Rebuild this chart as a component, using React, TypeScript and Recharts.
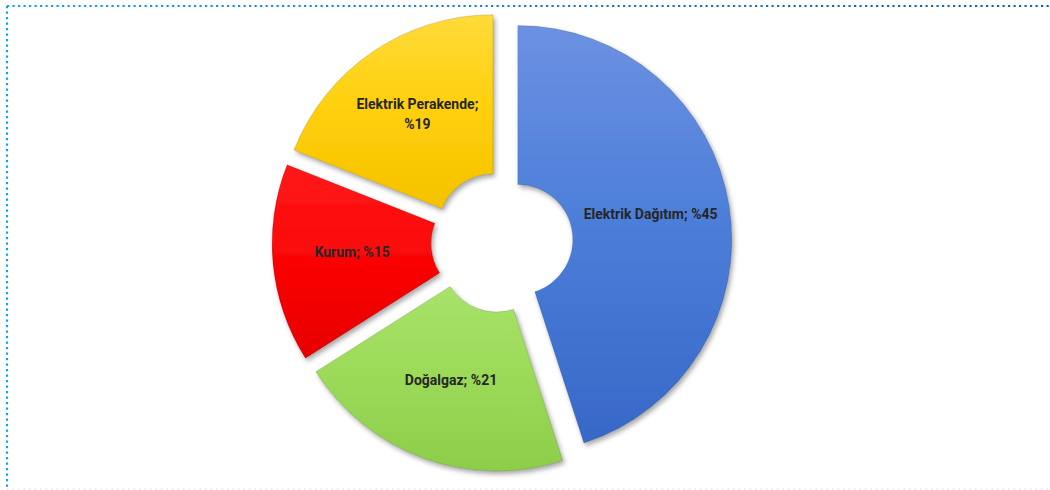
import { PieChart, Pie, Cell, Sector } from 'recharts';

const segmentNames = ['Elektrik Dağıtım', 'Doğalgaz', 'Kurum', 'Elektrik Perakende'];
const segmentShares = [45, 21, 15, 19];
const segmentColors = [
  ['#6c91e2', '#4a7dd8', '#3768c8'],
  ['#a8e26a', '#9bda58', '#8ccd4a'],
  ['#ff1a1a', '#fb0505', '#e60000'],
  ['#ffdb3a', '#ffcf0a', '#f5c200'],
];

const RAD = Math.PI / 180;
const EXPLODE = 16;
const INNER = 55;
const OUTER = 214;

const data = segmentNames.map((name, i) => ({ name, value: segmentShares[i] }));

// every slice is pulled out along its own mid angle
const offset = (midAngle: number) => ({
  dx: Math.cos(-midAngle * RAD) * EXPLODE,
  dy: Math.sin(-midAngle * RAD) * EXPLODE,
});

function ExplodedSlice(props: any) {
  const { cx, cy, midAngle } = props;
  const { dx, dy } = offset(midAngle);
  return <Sector {...props} cx={cx + dx} cy={cy + dy} filter="url(#sliceShadow)" stroke="rgba(0,0,0,0.12)" strokeWidth={1} />;
}

function SliceLabel(props: any) {
  const { cx, cy, midAngle, innerRadius, outerRadius, index } = props;
  const { dx, dy } = offset(midAngle);
  const r = (innerRadius + outerRadius) / 2;
  const x = cx + dx + Math.cos(-midAngle * RAD) * r;
  const y = cy + dy + Math.sin(-midAngle * RAD) * r - 4;
  const name = segmentNames[index];
  const lines = name.length > 17 ? [`${name};`, `%${segmentShares[index]}`] : [`${name}; %${segmentShares[index]}`];
  const top = y - ((lines.length - 1) * 20) / 2;
  return (
    <text x={x} textAnchor="middle" dominantBaseline="central" fill="#262626" fontSize={14} fontWeight={700} fontFamily="Roboto, sans-serif">
      {lines.map((l, k) => (
        <tspan key={k} x={x} y={top + k * 20}>{l}</tspan>
      ))}
    </text>
  );
}

export default function App() {
  return (
    <div style={{ position: 'absolute', left: 0, top: 0, width: 1050, height: 490, background: '#fff' }}>
      <svg width={1050} height={490} style={{ position: 'absolute', left: 0, top: 0 }}>
        <defs>
          <linearGradient id="frameTop" gradientUnits="userSpaceOnUse" x1={7} y1={0} x2={1050} y2={0}>
            <stop offset="0%" stopColor="#15a2e4" />
            <stop offset="100%" stopColor="#1d5c9e" />
          </linearGradient>
        </defs>
        <line x1={7} y1={6} x2={1050} y2={6} stroke="url(#frameTop)" strokeWidth={2.2} strokeDasharray="2.2 3.3" />
        <line x1={7} y1={6} x2={7} y2={490} stroke="#15a2e4" strokeWidth={2.2} strokeDasharray="2.2 3.3" />
        <line x1={7} y1={489} x2={1050} y2={489} stroke="#e4e6ea" strokeWidth={1.5} strokeDasharray="1.5 4" />
      </svg>
      <div style={{ position: 'absolute', left: 0, top: 0 }}>
        <PieChart width={1050} height={490} margin={{ top: 0, right: 0, bottom: 0, left: 0 }}>
          <defs>
            {segmentColors.map((c, i) => (
              <linearGradient key={i} id={`sliceFill${i}`} x1="0" y1="0" x2="0" y2="1">
                <stop offset="0%" stopColor={c[0]} />
                <stop offset="50%" stopColor={c[1]} />
                <stop offset="100%" stopColor={c[2]} />
              </linearGradient>
            ))}
            <filter id="sliceShadow" x="-20%" y="-20%" width="140%" height="140%">
              <feDropShadow dx={2} dy={3} stdDeviation={2.5} floodColor="#000" floodOpacity={0.35} />
            </filter>
          </defs>
          <Pie
            data={data}
            dataKey="value"
            nameKey="name"
            cx={502}
            cy={242}
            innerRadius={INNER}
            outerRadius={OUTER}
            startAngle={90}
            endAngle={-270}
            shape={ExplodedSlice}
            label={SliceLabel}
            labelLine={false}
            isAnimationActive={false}
          >
            {data.map((_, i) => (
              <Cell key={i} fill={`url(#sliceFill${i})`} />
            ))}
          </Pie>
        </PieChart>
      </div>
    </div>
  );
}
